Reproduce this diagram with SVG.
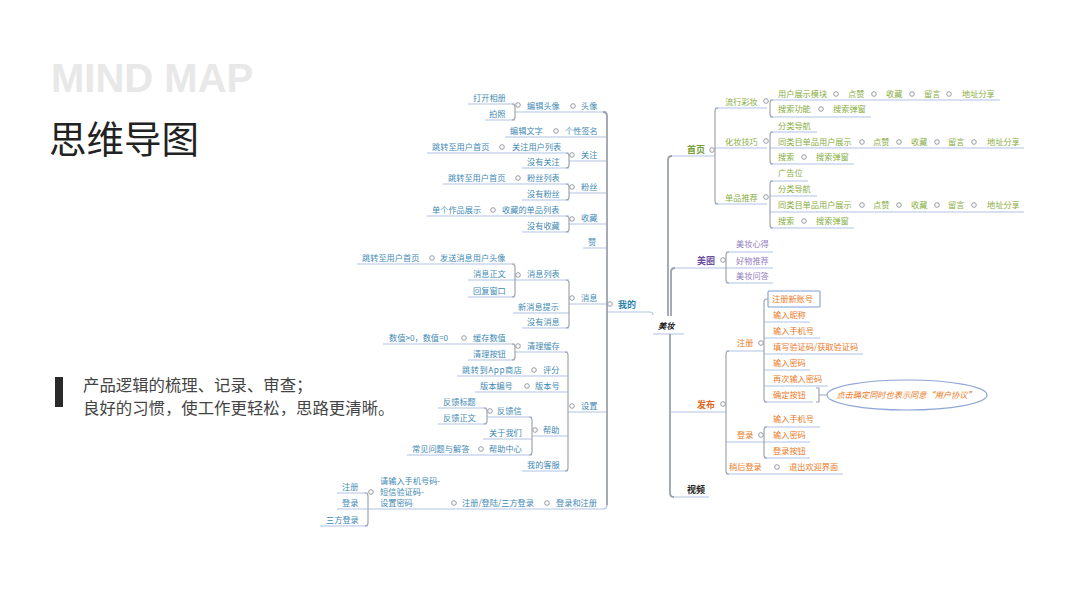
<svg xmlns="http://www.w3.org/2000/svg" width="1065" height="600" viewBox="0 0 1065 600">
<style>
.t{font-family:"Noto Sans CJK SC","Noto Sans",sans-serif;font-size:8.2px}
.b{fill:#3f8ab4}.g{fill:#89ad42}.p{fill:#9580c0}.o{fill:#ea7a25}
.bb{fill:#2b83ad;font-weight:bold;font-size:9px}
.gb{fill:#76a034;font-weight:bold;font-size:9px}
.pb{fill:#6a4ea0;font-weight:bold;font-size:9px}
.ob{fill:#e2661b;font-weight:bold;font-size:9px}
.kb{fill:#222;font-weight:bold;font-size:9px}
.u{stroke:#b2c4e6;stroke-width:1.2;fill:none}
.k{stroke:#a0a5ae;stroke-width:1.2;fill:none}
.tr{stroke:#9ca1ab;stroke-width:1.8;fill:none}
.c{fill:#fff;stroke:#8c9099;stroke-width:0.9}
</style>
<rect width="1065" height="600" fill="#fff"/>
<g id="title">
<text x="51" y="92" font-family="Liberation Sans,Arial,sans-serif" font-weight="bold" font-size="40" fill="#e8e8e8">MIND MAP</text>
<text x="49" y="153" font-family="'Noto Sans CJK SC',sans-serif" font-size="37.5" fill="#222">思维导图</text>
</g>
<g id="intro">
<rect x="55" y="377" width="8" height="30" fill="#2a2a2a"/>
<text x="83" y="391" font-family="'Noto Sans CJK SC',sans-serif" font-size="16.4" fill="#444">产品逻辑的梳理、记录、审查；</text>
<text x="83" y="414" font-family="'Noto Sans CJK SC',sans-serif" font-size="16.4" fill="#444">良好的习惯，使工作更轻松，思路更清晰。</text>
</g>
<g id="connectors">
<path class="u" d="M468,104H515M485,120H515M515,112H607M505,137H607M427,153H569M522,168H569M569,161H607M443,184H569M522,200H569M569,193H607M427,216H569M522,232H569M569,224H607M583,248H607M357,264H515M468,280H515M468,297H515M515,280H569M513,313H569M522,328H569M569,304H607M383,344H515M468,360H515M515,352H568M457,376H568M475,392H568M438,408H487M438,424H487M487,417H532M483,439H532M407,455H532M532,436H568M522,471H568M568,412H607M337,493H368M337,509H368M320,526H368M368,509H603Q607,509 607,505M607,312H650Q653,312 653,315M653,334H684"/>
<path class="k" d="M512,104Q515,104 515,107V117Q515,120 512,120M566,153Q569,153 569,156V165Q569,168 566,168M566,184Q569,184 569,187V197Q569,200 566,200M566,216Q569,216 569,219V229Q569,232 566,232M512,264Q515,264 515,267V294Q515,297 512,297M566,280Q569,280 569,283V325Q569,328 566,328M512,344Q515,344 515,347V357Q515,360 512,360M484,408Q487,408 487,411V421Q487,424 484,424M529,417Q532,417 532,420V452Q532,455 529,455M565,352Q568,352 568,355V468Q568,471 565,471M365,493Q368,493 368,496V523Q368,526 365,526"/>
<path class="tr" d="M603,112Q607,112 607,116V505"/>
<path class="tr" d="M668,316V160Q668,156 672,156M671,316V272Q671,268 675,268M670,334V493Q670,497 674,497"/>
<path class="u" d="M672,156H715M715,108H767M715,148H767M715,204H767M770,100H1000M770,117H871M770,132H817M770,148H1024M770,164H854M770,181H808M770,196H817M770,212H1024M770,228H854M675,268H726M726,252H773M726,268H773M726,283H773M670,412H726M726,351H764M764,322H810M764,338H820M764,354H863M764,370H810M764,386H828M764,402H813M726,442H764M764,427H820M764,442H810M764,458H810M726,474H843M674,497H709"/>
<path class="k" d="M718,108Q715,108 715,111V201Q715,204 718,204M773,100Q770,100 770,103V114Q770,117 773,117M773,132Q770,132 770,135V161Q770,164 773,164M773,181Q770,181 770,184V225Q770,228 773,228M729,252Q726,252 726,255V280Q726,283 729,283M768,299H767Q764,299 764,302V399Q764,402 767,402M767,427Q764,427 764,430V455Q764,458 767,458M729,351Q726,351 726,354V471Q726,474 729,474"/>
<path class="k" d="M816,388H819V402H816M819,395H827"/>
<ellipse cx="907" cy="395" rx="80" ry="15" fill="none" stroke="#8ea6d8" stroke-width="1.2"/>
<rect x="768" y="291" width="52" height="16" fill="#fff" stroke="#7f9fd4" stroke-width="1.1" rx="1"/>
<g class="c">
<circle cx="518" cy="105" r="2.3"/><circle cx="573" cy="106" r="2.3"/><circle cx="556" cy="131" r="2.3"/><circle cx="502" cy="147" r="2.3"/><circle cx="572" cy="155" r="2.3"/><circle cx="518" cy="178" r="2.3"/><circle cx="572" cy="187" r="2.3"/><circle cx="493" cy="210" r="2.3"/><circle cx="572" cy="219" r="2.3"/><circle cx="432" cy="258" r="2.3"/><circle cx="518" cy="275" r="2.3"/><circle cx="572" cy="298" r="2.3"/><circle cx="464" cy="338" r="2.3"/><circle cx="518" cy="346" r="2.3"/><circle cx="534" cy="370" r="2.3"/><circle cx="527" cy="386" r="2.3"/><circle cx="490" cy="411" r="2.3"/><circle cx="481" cy="449" r="2.3"/><circle cx="535" cy="430" r="2.3"/><circle cx="572" cy="406" r="2.3"/><circle cx="371" cy="492" r="2.3"/><circle cx="454" cy="503" r="2.3"/><circle cx="547" cy="503" r="2.3"/><circle cx="610" cy="304" r="2.3"/>
<circle cx="712" cy="150" r="2.3"/><circle cx="766" cy="101" r="2.3"/><circle cx="766" cy="141" r="2.3"/><circle cx="766" cy="197" r="2.3"/>
<circle cx="836" cy="94" r="2.3"/><circle cx="874" cy="94" r="2.3"/><circle cx="912" cy="94" r="2.3"/><circle cx="949" cy="94" r="2.3"/><circle cx="821" cy="109" r="2.3"/>
<circle cx="862" cy="142" r="2.3"/><circle cx="899" cy="142" r="2.3"/><circle cx="937" cy="142" r="2.3"/><circle cx="974" cy="142" r="2.3"/><circle cx="804" cy="157" r="2.3"/>
<circle cx="862" cy="205" r="2.3"/><circle cx="899" cy="205" r="2.3"/><circle cx="937" cy="205" r="2.3"/><circle cx="974" cy="205" r="2.3"/><circle cx="804" cy="221" r="2.3"/>
<circle cx="723" cy="260" r="2.3"/><circle cx="723" cy="404" r="2.3"/><circle cx="761" cy="343" r="2.3"/><circle cx="761" cy="435" r="2.3"/><circle cx="777" cy="467" r="2.3"/>
</g>
</g>
<g id="n-center"><text class="t" x="658" y="329" font-style="italic" font-weight="bold" font-size="10" fill="#222">美妆</text></g>
<g id="n-wode"><text class="t bb" x="618" y="308">我的</text></g>
<g id="n-touxiang" class="t b"><text x="473" y="101">打开相册</text><text x="489" y="117">拍照</text><text x="527" y="109">编辑头像</text><text x="581" y="109">头像</text></g>
<g id="n-qianming" class="t b"><text x="510" y="134">编辑文字</text><text x="565" y="134">个性签名</text></g>
<g id="n-guanzhu" class="t b"><text x="432" y="150">跳转至用户首页</text><text x="512" y="150">关注用户列表</text><text x="527" y="165">没有关注</text><text x="581" y="158">关注</text></g>
<g id="n-fensi" class="t b"><text x="448" y="181">跳转至用户首页</text><text x="527" y="181">粉丝列表</text><text x="527" y="197">没有粉丝</text><text x="581" y="190">粉丝</text></g>
<g id="n-shoucang" class="t b"><text x="432" y="213">单个作品展示</text><text x="502" y="213">收藏的单品列表</text><text x="527" y="229">没有收藏</text><text x="581" y="221">收藏</text></g>
<g id="n-zan" class="t b"><text x="588" y="245">赞</text></g>
<g id="n-xiaoxi" class="t b"><text x="362" y="261">跳转至用户首页</text><text x="440" y="261">发送消息用户头像</text><text x="473" y="277">消息正文</text><text x="473" y="294">回复窗口</text><text x="527" y="277">消息列表</text><text x="518" y="310">新消息提示</text><text x="527" y="325">没有消息</text><text x="581" y="301">消息</text></g>
<g id="n-shezhi" class="t b"><text x="389" y="341">数值&gt;0，数值=0</text><text x="473" y="341">缓存数值</text><text x="473" y="357">清理按钮</text><text x="527" y="349">清理缓存</text><text x="462" y="373" textLength="60">跳转到App商店</text><text x="543" y="373">评分</text><text x="480" y="389">版本编号</text><text x="535" y="389">版本号</text><text x="443" y="405">反馈标题</text><text x="443" y="421">反馈正文</text><text x="497" y="414">反馈信</text><text x="489" y="436">关于我们</text><text x="412" y="452">常见问题与解答</text><text x="489" y="452">帮助中心</text><text x="543" y="433">帮助</text><text x="527" y="468">我的客服</text><text x="581" y="409">设置</text></g>
<g id="n-denglu" class="t b"><text x="342" y="490">注册</text><text x="342" y="506">登录</text><text x="326" y="523">三方登录</text><text x="380" y="484">请输入手机号码-</text><text x="380" y="495">短信验证码-</text><text x="380" y="506">设置密码</text><text x="462" y="506" textLength="72">注册/登陆/三方登录</text><text x="556" y="506">登录和注册</text></g>
<g id="n-shouye"><text class="t gb" x="687" y="153">首页</text></g>
<g id="n-liuxing" class="t g"><text x="725" y="105">流行彩妆</text><text x="778" y="97">用户展示模块</text><text x="848" y="97">点赞</text><text x="886" y="97">收藏</text><text x="924" y="97">留言</text><text x="962" y="97">地址分享</text><text x="778" y="112">搜索功能</text><text x="833" y="112">搜索弹窗</text></g>
<g id="n-jiqiao" class="t g"><text x="725" y="145">化妆技巧</text><text x="778" y="129">分类导航</text><text x="778" y="145">同类目单品用户展示</text><text x="873" y="145">点赞</text><text x="911" y="145">收藏</text><text x="948" y="145">留言</text><text x="987" y="145">地址分享</text><text x="778" y="160">搜索</text><text x="816" y="160">搜索弹窗</text></g>
<g id="n-tuijian" class="t g"><text x="725" y="201">单品推荐</text><text x="778" y="176">广告位</text><text x="778" y="192">分类导航</text><text x="778" y="208">同类目单品用户展示</text><text x="873" y="208">点赞</text><text x="911" y="208">收藏</text><text x="948" y="208">留言</text><text x="987" y="208">地址分享</text><text x="778" y="224">搜索</text><text x="816" y="224">搜索弹窗</text></g>
<g id="n-meiquan"><text class="t pb" x="697" y="264">美圈</text><g class="t p"><text x="736" y="247">美妆心得</text><text x="736" y="264">好物推荐</text><text x="736" y="279">美妆问答</text></g></g>
<g id="n-fabu"><text class="t ob" x="697" y="408">发布</text></g>
<g id="n-zhuce" class="t o"><text x="737" y="346">注册</text><text x="772" y="302">注册新账号</text><text x="773" y="318">输入昵称</text><text x="773" y="334">输入手机号</text><text x="773" y="350">填写验证码/获取验证码</text><text x="773" y="366">输入密码</text><text x="773" y="382">再次输入密码</text><text x="773" y="398">确定按钮</text></g>
<g id="n-note"><text class="t o" x="906" y="398" text-anchor="middle" font-style="italic">点击确定同时也表示同意“用户协议”</text></g>
<g id="n-login" class="t o"><text x="737" y="438">登录</text><text x="773" y="422">输入手机号</text><text x="773" y="438">输入密码</text><text x="773" y="454">登录按钮</text><text x="729" y="470">稍后登录</text><text x="789" y="470">退出欢迎界面</text></g>
<g id="n-shipin"><text class="t kb" x="687" y="493">视频</text></g>
</svg>
